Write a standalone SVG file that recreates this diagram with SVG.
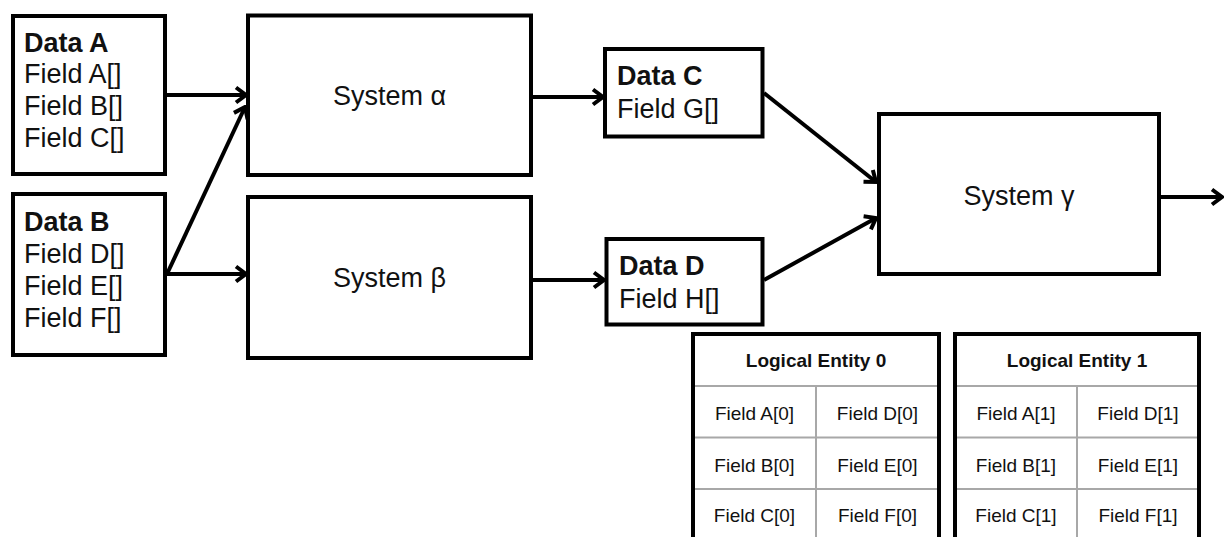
<svg xmlns="http://www.w3.org/2000/svg" width="1224" height="537" viewBox="0 0 1224 537">
<defs>
<style>
.box{fill:#fff;stroke:#000;stroke-width:4}
.t{font-family:"Liberation Sans",Arial,sans-serif;font-size:27px;fill:#111}
.b{font-weight:bold}
.sys{text-anchor:middle}
.tb{fill:none;stroke:#000;stroke-width:4}
.g{stroke:#a8a8a8;stroke-width:2;fill:none}
.ct{font-family:"Liberation Sans",Arial,sans-serif;font-size:19px;fill:#111;text-anchor:middle}
.ch{font-weight:bold;font-size:19px}
.c{fill:none;stroke:#000;stroke-width:4;marker-end:url(#arr)}
</style>
<marker id="arr" viewBox="-14 -10 16 20" markerWidth="16" markerHeight="20" refX="0" refY="0" orient="auto" markerUnits="userSpaceOnUse">
<path d="M-10,-7.5 L0,0 L-10,7.5" fill="none" stroke="#000" stroke-width="4"/>
</marker>
</defs>
<rect width="1224" height="537" fill="#fff"/>

<g id="connectors">
<line class="c" x1="167" y1="95" x2="246" y2="95"/>
<line class="c" x1="167" y1="274" x2="246" y2="274"/>
<line class="c" x1="167" y1="274" x2="245" y2="107"/>
<line class="c" x1="533" y1="97" x2="603" y2="97"/>
<line class="c" x1="533" y1="280" x2="604" y2="280"/>
<line class="c" x1="764" y1="93" x2="876" y2="182"/>
<line class="c" x1="764" y1="280" x2="876" y2="218"/>
<line class="c" x1="1161" y1="197" x2="1222" y2="197"/>
</g>

<g id="dataA">
<rect class="box" x="13" y="16" width="152" height="158"/>
<text class="t b" x="24" y="52">Data A</text>
<text class="t" x="24" y="83">Field A[]</text>
<text class="t" x="24" y="115">Field B[]</text>
<text class="t" x="24" y="147">Field C[]</text>
</g>

<g id="dataB">
<rect class="box" x="13" y="194" width="152" height="161"/>
<text class="t b" x="24" y="231">Data B</text>
<text class="t" x="24" y="263">Field D[]</text>
<text class="t" x="24" y="295">Field E[]</text>
<text class="t" x="24" y="327">Field F[]</text>
</g>

<g id="systemAlpha">
<rect class="box" x="248" y="15.5" width="283" height="159.5"/>
<text class="t sys" x="389.5" y="105">System α</text>
</g>

<g id="systemBeta">
<rect class="box" x="248" y="197" width="283" height="161"/>
<text class="t sys" x="389.5" y="287">System β</text>
</g>

<g id="dataC">
<rect class="box" x="605" y="49" width="157.5" height="87.5"/>
<text class="t b" x="617" y="85">Data C</text>
<text class="t" x="617" y="118">Field G[]</text>
</g>

<g id="dataD">
<rect class="box" x="606.5" y="239" width="156" height="85.5"/>
<text class="t b" x="619" y="275">Data D</text>
<text class="t" x="619" y="308">Field H[]</text>
</g>

<g id="systemGamma">
<rect class="box" x="879" y="114" width="280" height="160"/>
<text class="t sys" x="1019" y="205">System γ</text>
</g>

<g id="entity0">
<line class="g" x1="693" y1="386" x2="939" y2="386"/>
<line class="g" x1="693" y1="437.5" x2="939" y2="437.5"/>
<line class="g" x1="693" y1="489" x2="939" y2="489"/>
<line class="g" x1="816" y1="386" x2="816" y2="537"/>
<rect class="tb" x="693" y="334" width="246" height="230"/>
<text class="ct ch" x="816" y="367">Logical Entity 0</text>
<text class="ct" x="754.5" y="420">Field A[0]</text>
<text class="ct" x="877.5" y="420">Field D[0]</text>
<text class="ct" x="754.5" y="471.5">Field B[0]</text>
<text class="ct" x="877.5" y="471.5">Field E[0]</text>
<text class="ct" x="754.5" y="522">Field C[0]</text>
<text class="ct" x="877.5" y="522">Field F[0]</text>
</g>

<g id="entity1">
<line class="g" x1="955" y1="386" x2="1199" y2="386"/>
<line class="g" x1="955" y1="437.5" x2="1199" y2="437.5"/>
<line class="g" x1="955" y1="489" x2="1199" y2="489"/>
<line class="g" x1="1077" y1="386" x2="1077" y2="537"/>
<rect class="tb" x="955" y="334" width="244" height="230"/>
<text class="ct ch" x="1077" y="367">Logical Entity 1</text>
<text class="ct" x="1016" y="420">Field A[1]</text>
<text class="ct" x="1138" y="420">Field D[1]</text>
<text class="ct" x="1016" y="471.5">Field B[1]</text>
<text class="ct" x="1138" y="471.5">Field E[1]</text>
<text class="ct" x="1016" y="522">Field C[1]</text>
<text class="ct" x="1138" y="522">Field F[1]</text>
</g>
</svg>
